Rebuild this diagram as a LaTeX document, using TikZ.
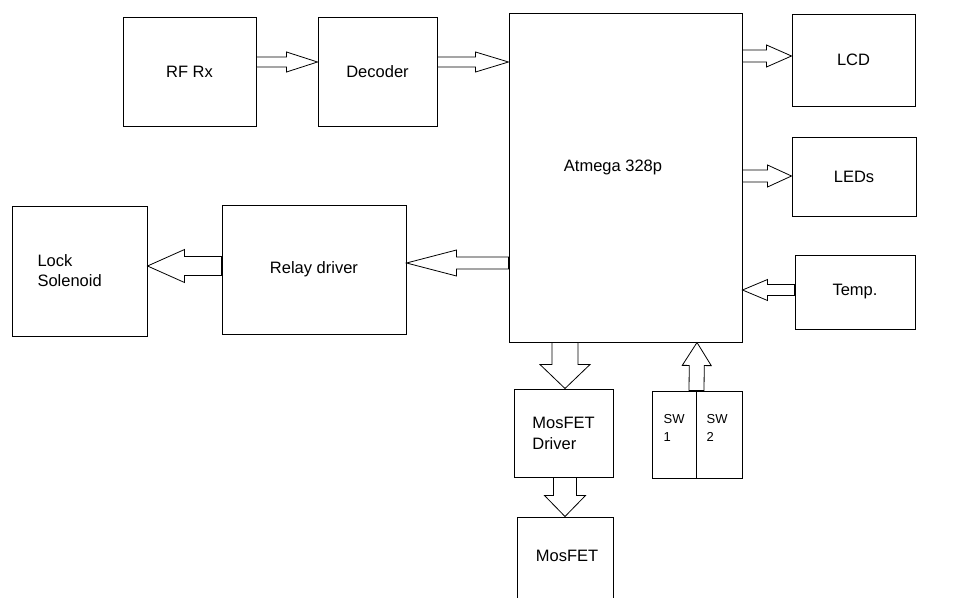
\documentclass[tikz,border=0pt]{standalone}
\usepackage{fontspec}
\setmainfont{Liberation Sans}
\usepackage{tikz}
\usetikzlibrary{calc}

% open block arrow: tail, tip, shaft half-width, head half-width, head length
\newcommand{\fatarrow}[5]{%
  \coordinate (fa-base) at ($(#2)!#5!(#1)$);
  \draw[fat] ($(#1)!#3!90:(#2)$) -- ($(fa-base)!#3!90:(#2)$)
    -- ($(fa-base)!#4!90:(#2)$) -- (#2) -- ($(fa-base)!#4!-90:(#2)$)
    -- ($(fa-base)!#3!-90:(#2)$) -- ($(#1)!#3!-90:(#2)$) -- cycle;}

\begin{document}
\begin{tikzpicture}[
    x=1pt, y=-1pt,
    font=\fontsize{16.5}{20}\selectfont,
    block/.style={rectangle, draw=black, line width=1pt, fill=white, inner sep=0pt},
    fat/.style={draw=black, line width=0.8pt, fill=white, line join=miter},
    swtext/.style={font=\fontsize{13}{17.5}\selectfont, align=left, inner sep=0pt, anchor=north west}
]
\useasboundingbox[fill=white] (0,0) rectangle (963,597);

% ---- Blocks (absolute positions, px) ----
\node[block, minimum width=133pt, minimum height=109pt] (rfrx)    at (189.5,71.5) {RF Rx};
\node[block, minimum width=119pt, minimum height=109pt] (decoder) at (377.5,71.5) {Decoder};
\node[block, minimum width=233pt, minimum height=329pt] (atmega)  at (625.5,177.5)
      {\phantom{x}};
\node at ($(atmega.center)+(-12.5,-10)$) {Atmega 328p};
\node[block, minimum width=123pt, minimum height=92pt]  (lcd)     at (853.5,60) {LCD};
\node[block, minimum width=124pt, minimum height=79pt]  (leds)    at (854,176.5) {LEDs};
\node[block, minimum width=120pt, minimum height=74pt]  (temp)    at (855,292) {Temp.};
\node[block, minimum width=135pt, minimum height=130pt, align=left,
      text width=84pt] (lock) at (79.5,271) {Lock\\Solenoid};
\node[block, minimum width=184pt, minimum height=129pt] (relay)   at (314,269.5) {Relay driver};
\node[block, minimum width=99pt,  minimum height=88pt, align=left,
      font=\fontsize{16.5}{21}\selectfont] (mosdrv) at (563.5,433) {MosFET\\\raisebox{0pt}[\height][0pt]{Driver}};
\node[block, minimum width=96pt,  minimum height=86pt]  (mosfet)  at (565,560) {};
\node at ($(mosfet.center)+(2,-4)$) {MosFET};
\node[block, minimum width=44pt,  minimum height=87pt]  (swa)     at (674,434.5) {};
\node[block, minimum width=46pt,  minimum height=87pt]  (swb)     at (719,434.5) {};
\node[swtext] at ($(swa.north west)+(12,24)$) {SW\\1};
\node[swtext] at ($(swb.north west)+(11,24)$) {SW\\2};

% ---- Input chain ----
\fatarrow{$(rfrx.east)+(0,-9.5)$}{$(decoder.west)+(0,-9.5)$}{5pt}{10pt}{31pt}
\fatarrow{$(decoder.east)+(0,-9.5)$}{$(atmega.west)+(0,-115.5)$}{5pt}{10pt}{33pt}

% ---- Outputs on the right ----
\fatarrow{$(atmega.east)+(0,-121.5)$}{$(lcd.west)+(0,-4)$}{6pt}{11pt}{25pt}
\fatarrow{$(atmega.east)+(0,-1.5)$}{$(leds.west)+(0,-0.5)$}{6pt}{11pt}{24pt}
\fatarrow{$(temp.west)+(0,-2)$}{$(atmega.east)+(0,112.5)$}{5.5pt}{10.5pt}{25pt}

% ---- Lock path ----
\fatarrow{$(atmega.west)+(0,85.5)$}{$(relay.east)+(0,-6.5)$}{6pt}{13pt}{50pt}
\fatarrow{$(relay.west)+(0,-3.5)$}{$(lock.east)+(0,-5)$}{9.5pt}{16.5pt}{37pt}

% ---- Lower branch ----
\fatarrow{$(atmega.south)+(-60.5,0)$}{$(mosdrv.north)+(1.5,0)$}{13pt}{25pt}{24pt}
\fatarrow{$(mosdrv.south)+(1.5,0)$}{$(mosfet.north)$}{11.5pt}{20.5pt}{21pt}
\fatarrow{$(swa.north east)+(0,0)$}{$(atmega.south)+(71.5,0)$}{7.5pt}{14.5pt}{23pt}

\end{tikzpicture}
\end{document}
